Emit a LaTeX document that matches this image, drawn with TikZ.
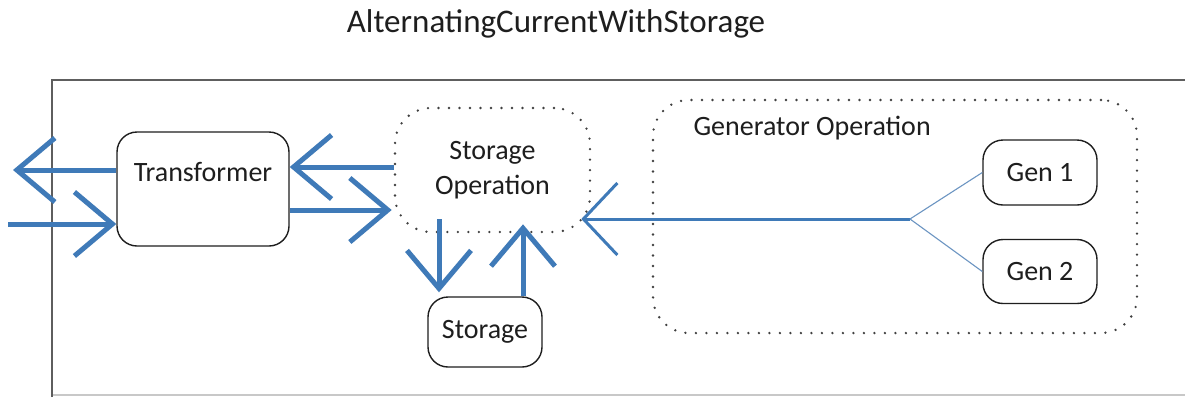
\documentclass[tikz,border=0pt]{standalone}
\usepackage{fontspec}
\setmainfont{Carlito}
\usepackage{xcolor}
\definecolor{flowBlue}{HTML}{3F7AB8}
\definecolor{flowThin}{HTML}{6C95C2}
\definecolor{frameGray}{HTML}{5E5E5E}
\definecolor{frameLight}{HTML}{C8C8C8}
\definecolor{textDark}{HTML}{1E1E1E}
\usetikzlibrary{arrows.meta}

\begin{document}
\begin{tikzpicture}[x=1pt, y=-1pt,
  font=\fontsize{28}{35}\selectfont, text=textDark,
  unitbox/.style={draw=textDark, line width=1.4pt, rounded corners=20pt, fill=white, inner sep=0pt},
  groupbox/.style={draw=textDark!85, line width=2.6pt, dash pattern=on 0pt off 10.5pt, line cap=round, rounded corners=36pt, inner sep=0pt},
  bigflow/.style={flowBlue, line width=5pt, -{Straight Barb[length=38pt, width=64pt]}},
  genflow/.style={flowBlue, line width=3pt, -{Straight Barb[length=34pt, width=72pt]}},
  feedline/.style={flowThin, line width=1.1pt}]
  \useasboundingbox (0,0) rectangle (1185,397);
  \clip (0,0) rectangle (1185,397);
  \fill[white] (0,0) rectangle (1185,397);
  \draw[frameLight, line width=1.5pt] (52,395) -- (1190,395);
  \draw[frameGray, line width=2pt] (52,397) -- (52,80) -- (1190,80);
  \node[font=\fontsize{33}{40}\selectfont] (title) at (556,24) {AlternatingCurrentWithStorage};
  \node[unitbox, minimum width=172pt, minimum height=114pt,
    label={[anchor=center, yshift=-41pt]north:Transformer}] (trans) at (203,189) {};
  \node[groupbox, minimum width=195pt, minimum height=124pt, align=center] (storop) at (492.5,170) {Storage\\Operation};
  \node[unitbox, minimum width=114pt, minimum height=70pt] (storage) at (485,332) {Storage};
  \node[groupbox, minimum width=484pt, minimum height=233pt] (genop) at (895,216.5) {};
  \node[anchor=west] (genlabel) at (690,128) {Generator Operation};
  \node[unitbox, minimum width=114pt, minimum height=65pt] (gen1) at (1040,172.5) {Gen 1};
  \node[unitbox, minimum width=114pt, minimum height=64pt] (gen2) at (1040,271.5) {Gen 2};
  \coordinate (outL) at (13,170);
  \coordinate (inL) at (8,224);
  \coordinate (branch) at (910,219);
  \draw[bigflow] ([yshift=19pt]trans.west) -- (outL);
  \draw[bigflow] (inL) -- ([yshift=-35pt]trans.west);
  \draw[bigflow] ([yshift=3pt]storop.west) -- ([yshift=22pt]trans.east);
  \draw[bigflow] ([yshift=-21pt]trans.east) -- ([yshift=-40pt, xshift=-2pt]storop.west);
  \draw[bigflow] ([xshift=-53.5pt, yshift=14pt]storop.south) -- ([xshift=-46pt, yshift=4pt]storage.north);
  \draw[bigflow] ([xshift=38pt]storage.north) -- ([xshift=30.5pt, yshift=9pt]storop.south);
  \draw[genflow] (branch) -- ([xshift=-10pt]storop.east |- branch);
  \draw[feedline] (branch) -- (gen1.west);
  \draw[feedline] (branch) -- (gen2.west);
\end{tikzpicture}
\end{document}
